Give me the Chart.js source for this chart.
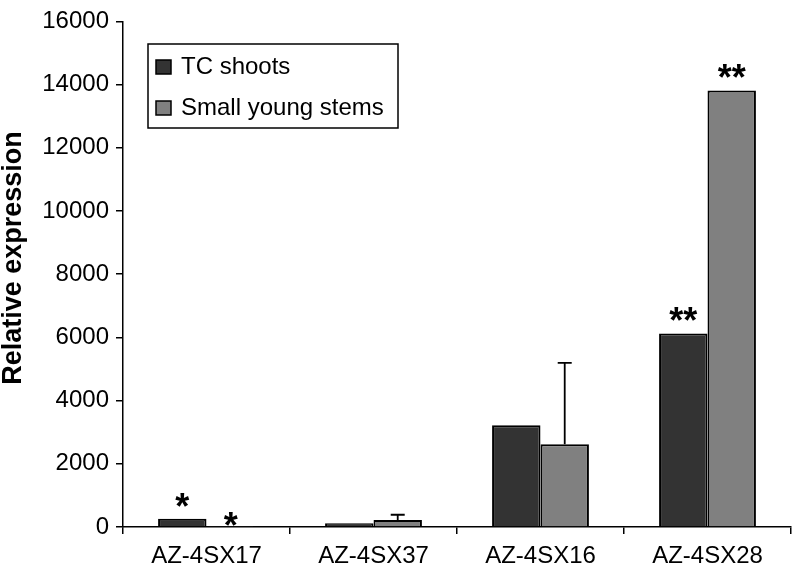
<!DOCTYPE html>
<html>
<head>
<meta charset="utf-8">
<script src="https://cdn.jsdelivr.net/npm/chart.js@4.4.1/dist/chart.umd.min.js"></script>
<style>
  html, body { margin: 0; padding: 0; background: #ffffff; }
  #wrap { width: 794px; height: 570px; }
</style>
</head>
<body>
<div id="wrap"><canvas id="myChart" width="794" height="570"></canvas></div>
<script>
// Data
var categories = ['AZ-4SX17', 'AZ-4SX37', 'AZ-4SX16', 'AZ-4SX28'];
var tcShoots = [261, 116, 3219, 6127];
var youngStems = [12, 220, 2621, 13815];
var youngStemsErrTop = [null, 387, 5192, null];
var tcStars = ['*', '', '', '**'];
var stemStars = ['*', '', '', '**'];
var yTitle = 'Relative expression';

var FONT = "'Liberation Sans', Arial, Helvetica, sans-serif";

// error bars + significance stars
var marksPlugin = {
    id: 'marks',
    afterDatasetsDraw: function(chart) {
        var ctx = chart.ctx;
        var y = chart.scales.y;
        var tcMeta = chart.getDatasetMeta(0);
        var ysMeta = chart.getDatasetMeta(1);
        ctx.save();
        ctx.strokeStyle = '#000';
        ctx.lineWidth = 1.8;
        youngStemsErrTop.forEach(function(top, i) {
            if (top == null) return;
            var bar = ysMeta.data[i];
            var yt = y.getPixelForValue(top);
            ctx.beginPath();
            ctx.moveTo(bar.x, bar.y);
            ctx.lineTo(bar.x, yt);
            ctx.moveTo(bar.x - 7, yt);
            ctx.lineTo(bar.x + 7, yt);
            ctx.stroke();
        });
        ctx.fillStyle = '#000';
        ctx.font = 'bold 36px ' + FONT;
        ctx.textAlign = 'center';
        ctx.textBaseline = 'middle';
        function star(meta, labels, values) {
            labels.forEach(function(s, i) {
                if (!s) return;
                var bar = meta.data[i];
                var cy = values[i] < 100 ? y.getPixelForValue(0) - 6 : bar.y - 17;
                // asterisk sits high in its em box, shift down
                ctx.fillText(s, bar.x, cy + 7);
            });
        }
        star(tcMeta, tcStars, tcShoots);
        star(ysMeta, stemStars, youngStems);
        ctx.restore();
    },
    afterDraw: function(chart) {
        var ctx = chart.ctx;
        ctx.save();
        // y axis title
        ctx.translate(14, 258);
        ctx.rotate(-Math.PI / 2);
        ctx.font = 'bold 27px ' + FONT;
        ctx.fillStyle = '#000';
        ctx.textAlign = 'center';
        ctx.textBaseline = 'middle';
        ctx.fillText(yTitle, 0, 0);
        ctx.restore();

        // legend box
        ctx.save();
        ctx.fillStyle = '#fff';
        ctx.strokeStyle = '#000';
        ctx.lineWidth = 1.5;
        ctx.fillRect(148, 44, 250, 84);
        ctx.strokeRect(148, 44, 250, 84);
        ctx.font = '24px ' + FONT;
        ctx.textAlign = 'left';
        ctx.textBaseline = 'middle';
        chart.data.datasets.forEach(function(ds, i) {
            var cy = 67 + i * 41;
            ctx.fillStyle = ds.backgroundColor;
            ctx.fillRect(156, cy - 7, 15, 14);
            ctx.strokeRect(156, cy - 7, 15, 14);
            ctx.fillStyle = '#000';
            ctx.fillText(ds.label, 181, cy);
        });
        ctx.restore();
    }
};

var data = {
    labels: categories,
    datasets: [{
        label: 'TC shoots',
        data: tcShoots,
        backgroundColor: '#333333',
        borderColor: '#000000',
        borderWidth: 2
    }, {
        label: 'Small young stems',
        data: youngStems,
        backgroundColor: '#808080',
        borderColor: '#000000',
        borderWidth: 2
    }]
};

var options = {
    responsive: false,
    animation: false,
    layout: { padding: { top: 18.5, right: 3, left: 0, bottom: 0 } },
    datasets: { bar: { barPercentage: 1, categoryPercentage: 0.58 } },
    plugins: { legend: { display: false }, tooltip: { enabled: false } },
    scales: {
        x: {
            offset: true,
            border: { color: '#000', width: 1.5 },
            grid: { drawOnChartArea: false, tickLength: 7, color: '#000', lineWidth: 1.5 },
            ticks: { color: '#000', font: { family: FONT, size: 24 }, padding: 8, maxRotation: 0 },
            afterFit: function(scale) { scale.height = 43; }
        },
        y: {
            min: 0,
            max: 16000,
            border: { color: '#000', width: 1.5 },
            grid: { drawOnChartArea: false, tickLength: 7, color: '#000', lineWidth: 1.5 },
            ticks: {
                stepSize: 2000,
                color: '#000',
                font: { family: FONT, size: 24 },
                padding: 7,
                callback: function(v) { return String(v); }
            },
            afterFit: function(scale) { scale.width = 123; }
        }
    }
};

var ctx = document.getElementById('myChart').getContext('2d');
var myChart = new Chart(ctx, {
    type: 'bar',
    data: data,
    options: options,
    plugins: [marksPlugin]
});
</script>
</body>
</html>
